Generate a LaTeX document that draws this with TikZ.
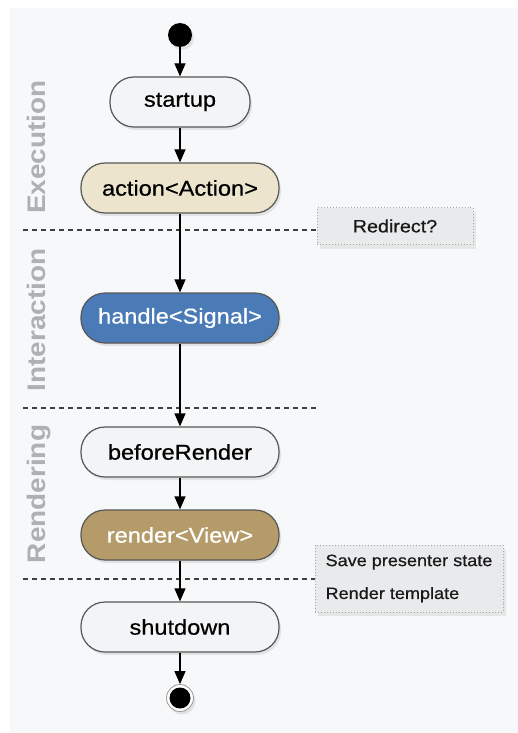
\documentclass[tikz,border=0pt]{standalone}
\usepackage{fontspec}
\setmainfont{Liberation Sans}[FakeStretch=1.1]
\newfontfamily\heavysans{Liberation Sans}[FakeStretch=1.1,FakeBold=0.6]
\usetikzlibrary{arrows.meta,shadows}

\definecolor{panelbg}{HTML}{F7F8F9}
\definecolor{edgegray}{HTML}{575757}
\definecolor{plainfill}{HTML}{F3F4F6}
\definecolor{actionfill}{HTML}{ECE4CC}
\definecolor{signalfill}{HTML}{4A7BB7}
\definecolor{viewfill}{HTML}{B49B69}
\definecolor{notefill}{HTML}{E9EAEC}
\definecolor{lanegray}{HTML}{ADB0B4}

\newcommand\phasefont{\heavysans\fontsize{21.5}{24}\selectfont}
\newcommand\notefont{\heavysans\fontsize{16.5}{33}\selectfont}
\newcommand\lanefont{\fontsize{25.5}{28}\selectfont\bfseries}

\begin{document}
\begin{tikzpicture}[x=1bp,y=-1bp,
    phase/.style={draw=edgegray, line width=1.2bp, rounded corners=24bp,
      minimum width=198bp, minimum height=50bp, inner sep=0pt,
      font=\phasefont, text=black,
      drop shadow={opacity=0.18, shadow xshift=2bp, shadow yshift=-3bp}},
    note/.style={draw=gray!70, dotted, line width=1bp, fill=notefill,
      font=\notefont, text=black!90, inner sep=0pt,
      drop shadow={opacity=0.15, shadow xshift=3bp, shadow yshift=-4bp}},
    flow/.style={-{Triangle[width=11bp,length=13bp]}, line width=1.2bp, black},
    lane/.style={dash pattern=on 5bp off 4bp, line width=1.2bp, black!75},
    lanelabel/.style={rotate=90, anchor=base, text=lanegray, font=\lanefont}]
    % Draw the panel
    \useasboundingbox (0,0) rectangle (518,733);
    \fill[white] (0,0) rectangle (518,733);
    \fill[panelbg] (10,8) rectangle (518,733);
    % Draw the lanes
    \node[lanelabel] (execution) at (45,147) {Execution};
    \node[lanelabel] (interaction) at (45,320) {Interaction};
    \node[lanelabel] (rendering) at (45,494) {Rendering};
    \node[note, minimum width=156bp, minimum height=37bp] (redirect) at (395,226) {\fontsize{18}{20}\selectfont Redirect?};
    \node[note, minimum width=188bp, minimum height=67bp, align=left] (tasks) at (409,578.5)
      {Save presenter state\\Render template};
    \coordinate (cut1) at (23,230);
    \coordinate (cut2) at (23,408);
    \coordinate (cut3) at (23,579);
    \draw[lane] (cut1) -- (redirect.west |- cut1);
    \draw[lane] (cut2) -- (317,408);
    \draw[lane] (cut3) -- (tasks.west |- cut3);
    % Draw the states
    \node[circle, fill=black, minimum size=24bp, inner sep=0pt,
      drop shadow={opacity=0.18, shadow xshift=2bp, shadow yshift=-3bp}] (start) at (180,35) {};
    \node[phase, fill=plainfill, minimum width=140bp] (startup) at (180,102) {startup};
    \node[phase, fill=actionfill] (action) at (180,188) {action<Action>};
    \node[phase, fill=signalfill, text=white] (handle) at (180,318) {handle<Signal>};
    \node[phase, fill=plainfill] (before) at (180,452) {beforeRender};
    \node[phase, fill=viewfill, text=white] (render) at (180,535) {render<View>};
    \node[phase, fill=plainfill] (shutdown) at (180,627) {shutdown};
    \node[circle, draw=gray!80, line width=0.8bp, fill=white, minimum size=27bp, inner sep=0pt,
      drop shadow={opacity=0.18, shadow xshift=2bp, shadow yshift=-3bp},
      path picture={\fill[black] (path picture bounding box.center) circle (10.5bp);}] (stop) at (180,698) {};
    % Draw the flow
    \draw[flow] (start) -- (startup);
    \draw[flow] (startup) -- (action);
    \draw[flow] (action) -- (handle);
    \draw[flow] (handle) -- (before);
    \draw[flow] (before) -- (render);
    \draw[flow] (render) -- (shutdown);
    \draw[flow] (shutdown) -- (stop);
\end{tikzpicture}
\end{document}
